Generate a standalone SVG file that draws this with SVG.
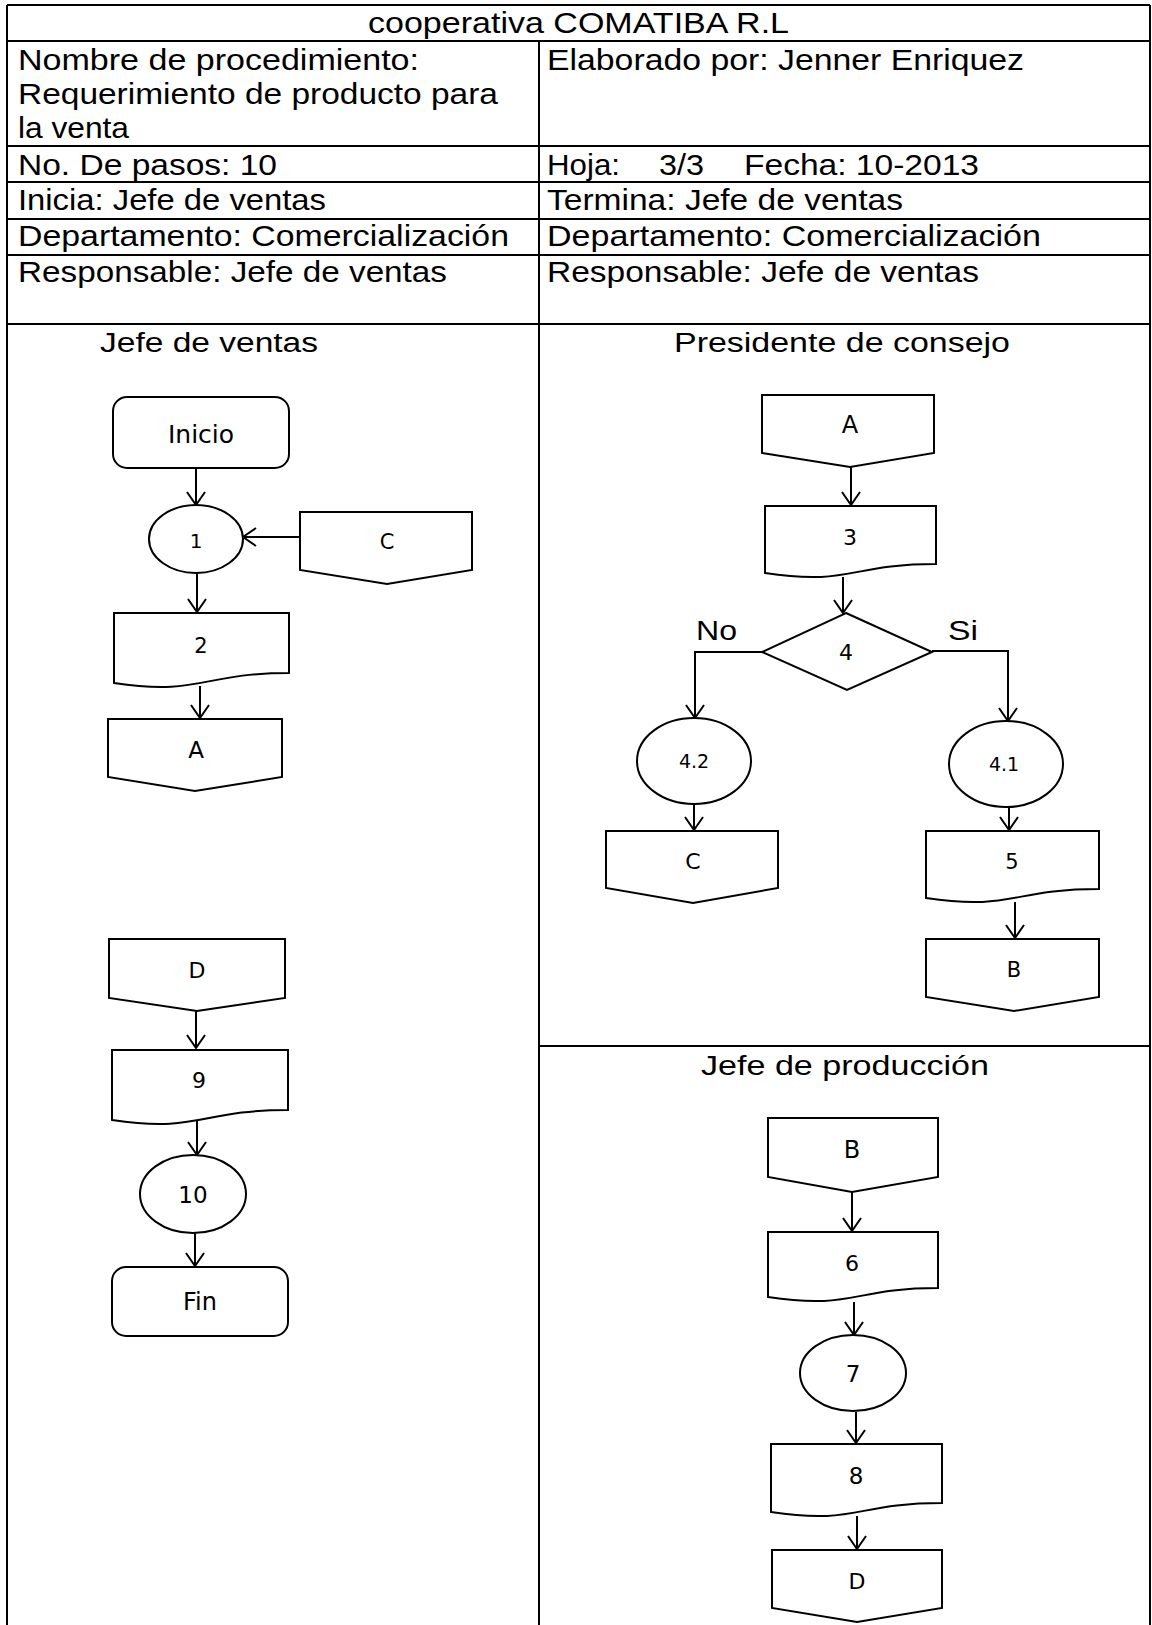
<svg xmlns="http://www.w3.org/2000/svg" width="1152" height="1625" viewBox="0 0 1152 1625">
<style>
.grid{stroke:#000;stroke-width:2;fill:none}
.hd{font-family:"Liberation Sans",Arial,sans-serif;font-size:29px;fill:#000}
.ln{font-family:"Liberation Sans",Arial,sans-serif;font-size:27px;fill:#000}
.sh{fill:#fff;stroke:#000;stroke-width:2}
.lb{font-family:"DejaVu Sans",Verdana,sans-serif;fill:#000;text-anchor:middle}
.yn{font-family:"Liberation Sans",Arial,sans-serif;font-size:28px;fill:#000}
.cn{fill:none;stroke:#000;stroke-width:2}
</style>
<defs>
<marker id="arr" markerUnits="userSpaceOnUse" viewBox="-15 -11 17 22" refX="0" refY="0" markerWidth="17" markerHeight="22" orient="auto">
<path d="M-13,-9 L0,0 L-13,9" fill="none" stroke="#000" stroke-width="2"/>
</marker>
</defs>
<rect width="1152" height="1625" fill="#fff"/>
<g id="table" class="grid">
<line x1="7" y1="5" x2="1150" y2="5"/>
<line x1="7" y1="5" x2="7" y2="1625"/>
<line x1="1150" y1="5" x2="1150" y2="1625"/>
<line x1="7" y1="41" x2="1150" y2="41"/>
<line x1="7" y1="146" x2="1150" y2="146"/>
<line x1="7" y1="182" x2="1150" y2="182"/>
<line x1="7" y1="219" x2="1150" y2="219"/>
<line x1="7" y1="255" x2="1150" y2="255"/>
<line x1="7" y1="324" x2="1150" y2="324"/>
<line x1="539" y1="41" x2="539" y2="1625"/>
<line x1="539" y1="1046" x2="1150" y2="1046"/>
</g>
<g id="header-text">
<text class="hd" x="368" y="33" textLength="421" lengthAdjust="spacingAndGlyphs">cooperativa COMATIBA R.L</text>
<text class="hd" x="18" y="70" textLength="401" lengthAdjust="spacingAndGlyphs">Nombre de procedimiento:</text>
<text class="hd" x="18" y="104" textLength="480" lengthAdjust="spacingAndGlyphs">Requerimiento de producto para</text>
<text class="hd" x="18" y="138" textLength="111" lengthAdjust="spacingAndGlyphs">la venta</text>
<text class="hd" x="547" y="70" textLength="477" lengthAdjust="spacingAndGlyphs">Elaborado por: Jenner Enriquez</text>
<text class="hd" x="18" y="175" textLength="259" lengthAdjust="spacingAndGlyphs">No. De pasos: 10</text>
<text class="hd" y="175"><tspan x="547" textLength="73" lengthAdjust="spacingAndGlyphs">Hoja:</tspan><tspan x="659" textLength="45" lengthAdjust="spacingAndGlyphs">3/3</tspan><tspan x="744" textLength="235" lengthAdjust="spacingAndGlyphs">Fecha: 10-2013</tspan></text>
<text class="hd" x="18" y="210" textLength="308" lengthAdjust="spacingAndGlyphs">Inicia: Jefe de ventas</text>
<text class="hd" x="547" y="210" textLength="356" lengthAdjust="spacingAndGlyphs">Termina: Jefe de ventas</text>
<text class="hd" x="18" y="246" textLength="491" lengthAdjust="spacingAndGlyphs">Departamento: Comercialización</text>
<text class="hd" x="547" y="246" textLength="494" lengthAdjust="spacingAndGlyphs">Departamento: Comercialización</text>
<text class="hd" x="18" y="282" textLength="429" lengthAdjust="spacingAndGlyphs">Responsable: Jefe de ventas</text>
<text class="hd" x="547" y="282" textLength="432" lengthAdjust="spacingAndGlyphs">Responsable: Jefe de ventas</text>
</g>
<g id="lane-titles">
<text class="ln" x="100" y="352" textLength="218" lengthAdjust="spacingAndGlyphs">Jefe de ventas</text>
<text class="ln" x="674" y="352" textLength="336" lengthAdjust="spacingAndGlyphs">Presidente de consejo</text>
<text class="ln" x="701" y="1075" textLength="288" lengthAdjust="spacingAndGlyphs">Jefe de producción</text>
</g>
<g id="connectors" class="cn">
<path d="M196,468 V505" marker-end="url(#arr)"/>
<path d="M300,537 H243" marker-end="url(#arr)"/>
<path d="M197,573 V612" marker-end="url(#arr)"/>
<path d="M200,686 V718" marker-end="url(#arr)"/>
<path d="M196,1011 V1048" marker-end="url(#arr)"/>
<path d="M197,1121 V1155" marker-end="url(#arr)"/>
<path d="M195,1233 V1266" marker-end="url(#arr)"/>
<path d="M851,467 V505" marker-end="url(#arr)"/>
<path d="M843,577 V613" marker-end="url(#arr)"/>
<path d="M762,652 H695 V718" marker-end="url(#arr)"/>
<path d="M932,651 H1008 V721" marker-end="url(#arr)"/>
<path d="M694,804 V830" marker-end="url(#arr)"/>
<path d="M1009,807 V830" marker-end="url(#arr)"/>
<path d="M1015,902 V938" marker-end="url(#arr)"/>
<path d="M852,1192 V1231" marker-end="url(#arr)"/>
<path d="M854,1302 V1335" marker-end="url(#arr)"/>
<path d="M856,1412 V1443" marker-end="url(#arr)"/>
<path d="M857,1516 V1549" marker-end="url(#arr)"/>
</g>
<g id="lbl-no"><text class="yn" x="696" y="640" textLength="41" lengthAdjust="spacingAndGlyphs">No</text></g>
<g id="lbl-si"><text class="yn" x="948" y="640" textLength="30" lengthAdjust="spacingAndGlyphs">Si</text></g>
<g id="inicio"><rect class="sh" x="113" y="397" width="176" height="71" rx="14"/><text class="lb" x="201" y="443" font-size="25">Inicio</text></g>
<g id="n1"><ellipse class="sh" cx="196" cy="539" rx="47" ry="34"/><text class="lb" x="196" y="548" font-size="20">1</text></g>
<g id="offC1"><path class="sh" d="M300,512 H472 V570 L387,584 L300,570 Z"/><text class="lb" x="387" y="549" font-size="21">C</text></g>
<g id="n2"><path class="sh" d="M114,613 H289 V673 C201,673 201,696 114,683 Z"/><text class="lb" x="201" y="653" font-size="21">2</text></g>
<g id="offA1"><path class="sh" d="M108,719 H282 V777 L195,791 L108,777 Z"/><text class="lb" x="196" y="758" font-size="23">A</text></g>
<g id="offD1"><path class="sh" d="M109,939 H285 V998 L197,1011 L109,998 Z"/><text class="lb" x="197" y="978" font-size="22">D</text></g>
<g id="n9"><path class="sh" d="M112,1050 H288 V1110 C200,1110 200,1133 112,1120 Z"/><text class="lb" x="199" y="1088" font-size="22">9</text></g>
<g id="n10"><ellipse class="sh" cx="193" cy="1194" rx="53" ry="39"/><text class="lb" x="193" y="1203" font-size="23">10</text></g>
<g id="fin"><rect class="sh" x="112" y="1267" width="176" height="69" rx="14"/><text class="lb" x="200" y="1310" font-size="24">Fin</text></g>
<g id="offA2"><path class="sh" d="M762,395 H934 V453 L850,467 L762,453 Z"/><text class="lb" x="850" y="433" font-size="24">A</text></g>
<g id="n3"><path class="sh" d="M765,506 H936 V564 C850,564 850,586 765,573 Z"/><text class="lb" x="850" y="545" font-size="22">3</text></g>
<g id="n4"><path class="sh" d="M846,613 L932,652 L847,690 L762,652 Z"/><text class="lb" x="846" y="660" font-size="22">4</text></g>
<g id="n42"><ellipse class="sh" cx="694" cy="761" rx="57" ry="43"/><text class="lb" x="694" y="768" font-size="19">4.2</text></g>
<g id="n41"><ellipse class="sh" cx="1006" cy="764" rx="57" ry="43"/><text class="lb" x="1004" y="771" font-size="19">4.1</text></g>
<g id="offC2"><path class="sh" d="M606,831 H778 V888 L693,903 L606,888 Z"/><text class="lb" x="693" y="869" font-size="22">C</text></g>
<g id="n5"><path class="sh" d="M926,831 H1099 V889 C1012,889 1012,911 926,898 Z"/><text class="lb" x="1012" y="869" font-size="21">5</text></g>
<g id="offB1"><path class="sh" d="M926,939 H1099 V997 L1014,1011 L926,997 Z"/><text class="lb" x="1014" y="977" font-size="21">B</text></g>
<g id="offB2"><path class="sh" d="M768,1118 H938 V1177 L852,1192 L768,1177 Z"/><text class="lb" x="852" y="1158" font-size="24">B</text></g>
<g id="n6"><path class="sh" d="M768,1232 H938 V1288 C853,1288 853,1310 768,1297 Z"/><text class="lb" x="852" y="1271" font-size="22">6</text></g>
<g id="n7"><ellipse class="sh" cx="853" cy="1373" rx="53" ry="38"/><text class="lb" x="853" y="1382" font-size="23">7</text></g>
<g id="n8"><path class="sh" d="M771,1444 H942 V1503 C856,1503 856,1525 771,1512 Z"/><text class="lb" x="856" y="1484" font-size="23">8</text></g>
<g id="offD2"><path class="sh" d="M772,1550 H942 V1608 L857,1622 L772,1608 Z"/><text class="lb" x="857" y="1589" font-size="22">D</text></g>
</svg>
